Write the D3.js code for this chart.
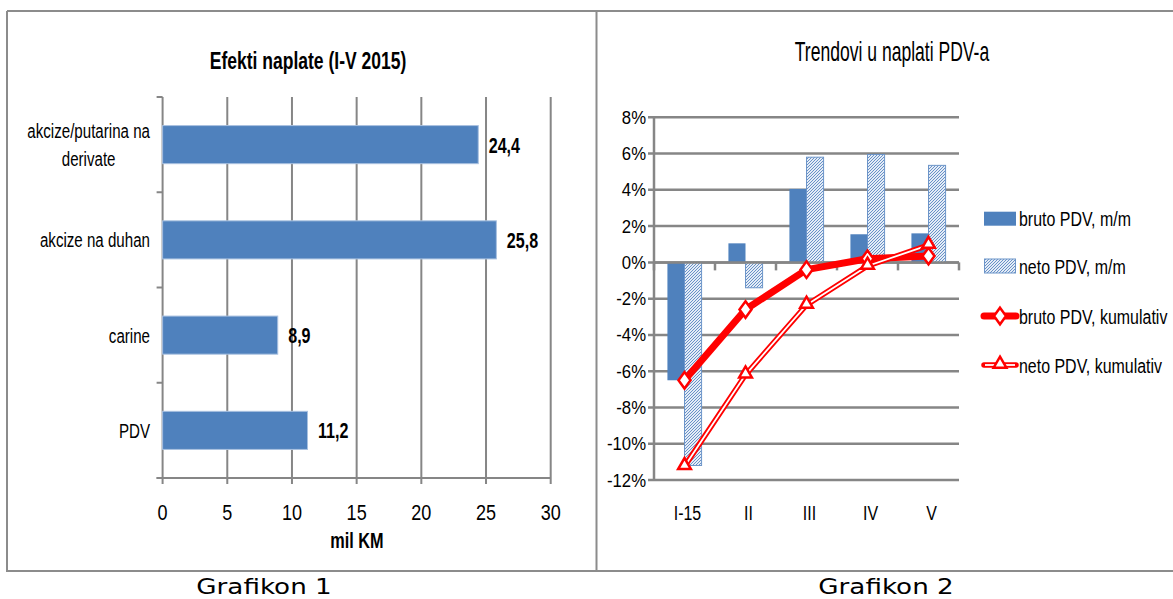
<!DOCTYPE html>
<html>
<head>
<meta charset="utf-8">
<script src="https://cdn.jsdelivr.net/npm/d3@7"></script>
<style>
  body { margin: 0; background: #fff; }
  text { font-family: "Liberation Sans", Arial, sans-serif; fill: #000; }
</style>
</head>
<body>
<svg id="chart"></svg>
<script>
// Grafikon 1 data
const barLabels = [["akcize/putarina na", "derivate"], ["akcize na duhan"], ["carine"], ["PDV"]];
const barValues = [24.4, 25.8, 8.9, 11.2];
const barTicks = [0, 5, 10, 15, 20, 25, 30];

// Grafikon 2 data (percent)
const months = ["I-15", "II", "III", "IV", "V"];
const brutoMM = [-6.5, 1.05, 4.05, 1.55, 1.6];
const netoMM = [-11.2, -1.4, 5.8, 5.95, 5.35];
const brutoKum = [-6.5, -2.6, -0.4, 0.2, 0.35];
const netoKum = [-11.25, -6.2, -2.35, -0.2, 0.95];
const pctTicks = [-12, -10, -8, -6, -4, -2, 0, 2, 4, 6, 8];
const legendNames = ["bruto PDV, m/m", "neto PDV, m/m", "bruto PDV, kumulativ", "neto PDV, kumulativ"];

const W = 1173, H = 599;
const blue = "#4F81BD", grid = "#868686", red = "#FF0000";

const svg = d3.select("#chart").attr("width", W).attr("height", H);

// squeeze text horizontally (Excel text is very narrow / Verdana caption wide)
function squeeze(sel, k) {
  sel.each(function() {
    const t = d3.select(this);
    const x = +t.attr("x"), y = +t.attr("y");
    t.attr("x", 0).attr("y", 0).attr("transform", `translate(${x},${y}) scale(${k},1)`);
  });
  return sel;
}

// hatch pattern for neto bars
const pat = svg.append("defs").append("pattern")
  .attr("id", "hatch").attr("patternUnits", "userSpaceOnUse")
  .attr("width", 3).attr("height", 3);
pat.append("rect").attr("width", 3).attr("height", 3).attr("fill", "#e4ecf6");
pat.append("path").attr("d", "M-1,1 l2,-2 M0,3 l3,-3 M2,4 l2,-2")
  .attr("stroke", "#5b87c2").attr("stroke-width", 0.9);

// frames
svg.append("path")
  .attr("d", "M7,11 H1180 M7,11 V571 H1180 M596.5,11 V571")
  .attr("fill", "none").attr("stroke", "#8c8c8c").attr("stroke-width", 2);

// ---------------- Grafikon 1 ----------------
const p1 = {l: 162.6, r: 550.7, t: 97, b: 478};

const x1 = d3.scaleLinear().domain([0, 30]).range([p1.l, p1.r]);
const y1 = d3.scaleBand().domain(d3.range(barValues.length))
  .range([p1.t, p1.b]).paddingInner(0.6).paddingOuter(0.3);

squeeze(svg.append("text")
  .attr("x", 308).attr("y", 69).attr("text-anchor", "middle")
  .attr("font-size", 24).attr("font-weight", "bold")
  .text("Efekti naplate (I-V 2015)"), 0.73);

// vertical gridlines
svg.append("g").selectAll("line").data(barTicks).join("line")
  .attr("x1", d => x1(d)).attr("x2", d => x1(d))
  .attr("y1", p1.t).attr("y2", p1.b + 6)
  .attr("stroke", grid).attr("stroke-width", 2);

// axis lines and category ticks
svg.append("line").attr("x1", p1.l - 6).attr("x2", p1.r).attr("y1", p1.b).attr("y2", p1.b)
  .attr("stroke", grid).attr("stroke-width", 2);
const step1 = y1.step();
svg.append("g").selectAll("line").data(d3.range(barValues.length + 1)).join("line")
  .attr("x1", p1.l - 6).attr("x2", p1.l)
  .attr("y1", i => p1.t + i * step1).attr("y2", i => p1.t + i * step1)
  .attr("stroke", grid).attr("stroke-width", 2);

// bars
svg.append("g").selectAll("rect").data(barValues).join("rect")
  .attr("x", x1(0)).attr("y", (d, i) => y1(i))
  .attr("width", d => x1(d) - x1(0)).attr("height", y1.bandwidth())
  .attr("fill", blue).attr("stroke", "#a9c1e0").attr("stroke-width", 1);

// value labels
squeeze(svg.append("g").selectAll("text").data(barValues).join("text")
  .attr("x", d => x1(d) + 10.5).attr("y", (d, i) => y1(i) + y1.bandwidth() / 2 + 8)
  .attr("font-size", 22).attr("font-weight", "bold")
  .text(d => d3.format(".1f")(d).replace(".", ",")), 0.73);

// category labels (lines centred, block right-aligned at x=150)
const catK = 0.72;
barLabels.forEach((lines, i) => {
  const cy = y1(i) + y1.bandwidth() / 2;
  const t = svg.append("g").selectAll("text").data(lines).join("text")
    .attr("y", (d, j) => cy + 7.5 + (j - (lines.length - 1) / 2) * 28)
    .attr("font-size", 21).attr("text-anchor", "middle").text(d => d);
  const maxW = d3.max(t.nodes(), n => n.getComputedTextLength()) * catK;
  t.attr("x", 150 - maxW / 2);
  squeeze(t, catK);
});

// x tick labels
squeeze(svg.append("g").selectAll("text").data(barTicks).join("text")
  .attr("x", d => x1(d)).attr("y", 520).attr("text-anchor", "middle")
  .attr("font-size", 22).text(d => d), 0.82);

squeeze(svg.append("text")
  .attr("x", 357).attr("y", 548).attr("text-anchor", "middle")
  .attr("font-size", 22).attr("font-weight", "bold").text("mil KM"), 0.74);

// ---------------- Grafikon 2 ----------------
const p2 = {l: 654, r: 959, t: 117.3, b: 480};

const x2 = d3.scaleBand().domain(months).range([p2.l, p2.r]).paddingInner(0.44).paddingOuter(0.22);
const xs = d3.scaleBand().domain(["bruto", "neto"]).range([0, x2.bandwidth()]);
const y2 = d3.scaleLinear().domain([-12, 8]).range([p2.b, p2.t]);
const cx = m => x2(m) + x2.bandwidth() / 2;

squeeze(svg.append("text")
  .attr("x", 892).attr("y", 61).attr("text-anchor", "middle")
  .attr("font-size", 27).text("Trendovi u naplati PDV-a"), 0.65);

// horizontal gridlines
svg.append("g").selectAll("line").data(pctTicks).join("line")
  .attr("x1", p2.l - 6).attr("x2", p2.r)
  .attr("y1", d => y2(d)).attr("y2", d => y2(d))
  .attr("stroke", grid).attr("stroke-width", 2.5);
svg.append("line").attr("x1", p2.l).attr("x2", p2.l).attr("y1", p2.t).attr("y2", p2.b)
  .attr("stroke", grid).attr("stroke-width", 2.5);

// bars
const barG = svg.append("g");
barG.selectAll("rect.b").data(brutoMM).join("rect").attr("class", "b")
  .attr("x", (d, i) => x2(months[i]) + xs("bruto"))
  .attr("y", d => y2(Math.max(0, d))).attr("width", xs.bandwidth())
  .attr("height", d => Math.abs(y2(d) - y2(0)))
  .attr("fill", blue);
barG.selectAll("rect.n").data(netoMM).join("rect").attr("class", "n")
  .attr("x", (d, i) => x2(months[i]) + xs("neto"))
  .attr("y", d => y2(Math.max(0, d))).attr("width", xs.bandwidth())
  .attr("height", d => Math.abs(y2(d) - y2(0)))
  .attr("fill", "url(#hatch)").attr("stroke", "#6d95c9").attr("stroke-width", 1);

// category axis at 0 with ticks down
svg.append("line").attr("x1", p2.l).attr("x2", p2.r).attr("y1", y2(0)).attr("y2", y2(0))
  .attr("stroke", grid).attr("stroke-width", 2.5);
svg.append("g").selectAll("line").data(d3.range(months.length + 1)).join("line")
  .attr("x1", i => p2.l + i * x2.step()).attr("x2", i => p2.l + i * x2.step())
  .attr("y1", y2(0)).attr("y2", y2(0) + 8)
  .attr("stroke", grid).attr("stroke-width", 2.5);

// y tick labels
squeeze(svg.append("g").selectAll("text").data(pctTicks).join("text")
  .attr("x", 646).attr("y", d => y2(d) + 6.5).attr("text-anchor", "end")
  .attr("font-size", 19).text(d => d + "%"), 0.88);

// x labels
squeeze(svg.append("g").selectAll("text").data(months).join("text")
  .attr("x", d => cx(d) + 3).attr("y", 520).attr("text-anchor", "middle")
  .attr("font-size", 21).text(d => d), 0.76);

// markers
const diamond = {
  draw(ctx, size) {
    const s = Math.sqrt(size), w = s * 0.4, h = s * 0.55;
    ctx.moveTo(0, -h); ctx.lineTo(w, 0); ctx.lineTo(0, h); ctx.lineTo(-w, 0); ctx.closePath();
  }
};
const diamondPath = d3.symbol().type(diamond).size(225)();
const trianglePath = d3.symbol().type(d3.symbolTriangle).size(70)();

const line2 = d3.line().x((d, i) => cx(months[i])).y(d => y2(d));

// bruto kumulativ
svg.append("path").attr("d", line2(brutoKum))
  .attr("fill", "none").attr("stroke", red).attr("stroke-width", 7).attr("stroke-linejoin", "round");
svg.append("g").selectAll("path").data(brutoKum).join("path")
  .attr("d", diamondPath)
  .attr("transform", (d, i) => `translate(${cx(months[i])},${y2(d)})`)
  .attr("fill", "#fff").attr("stroke", red).attr("stroke-width", 2.5);

// neto kumulativ (double line)
svg.append("path").attr("d", line2(netoKum))
  .attr("fill", "none").attr("stroke", red).attr("stroke-width", 5.5);
svg.append("path").attr("d", line2(netoKum))
  .attr("fill", "none").attr("stroke", "#fff").attr("stroke-width", 1.8);
svg.append("g").selectAll("path").data(netoKum).join("path")
  .attr("d", trianglePath)
  .attr("transform", (d, i) => `translate(${cx(months[i])},${y2(d) - 1})`)
  .attr("fill", "#fff").attr("stroke", red).attr("stroke-width", 2.5);

// legend
const lg = svg.append("g");
const lgY = [218.7, 266, 316, 365];
lg.append("rect").attr("x", 984).attr("y", lgY[0] - 7).attr("width", 32).attr("height", 14)
  .attr("fill", blue);
lg.append("rect").attr("x", 984.5).attr("y", lgY[1] - 7).attr("width", 31).attr("height", 14)
  .attr("fill", "url(#hatch)").attr("stroke", "#6d95c9").attr("stroke-width", 1);
lg.append("line").attr("x1", 984).attr("x2", 1016).attr("y1", lgY[2]).attr("y2", lgY[2])
  .attr("stroke", red).attr("stroke-width", 7).attr("stroke-linecap", "round");
lg.append("path").attr("d", diamondPath).attr("transform", `translate(1000,${lgY[2]})`)
  .attr("fill", "#fff").attr("stroke", red).attr("stroke-width", 2.5);
lg.append("line").attr("x1", 984).attr("x2", 1016).attr("y1", lgY[3]).attr("y2", lgY[3])
  .attr("stroke", red).attr("stroke-width", 5.5).attr("stroke-linecap", "round");
lg.append("line").attr("x1", 985).attr("x2", 1015).attr("y1", lgY[3]).attr("y2", lgY[3])
  .attr("stroke", "#fff").attr("stroke-width", 1.8);
lg.append("path").attr("d", trianglePath).attr("transform", `translate(1000,${lgY[3] - 1})`)
  .attr("fill", "#fff").attr("stroke", red).attr("stroke-width", 2.5);
squeeze(lg.selectAll("text").data(legendNames).join("text")
  .attr("x", 1019).attr("y", (d, i) => lgY[i] + 7.5)
  .attr("font-size", 21).text(d => d), 0.76);

// captions under the frames
squeeze(svg.append("g").selectAll("text").data(["Grafikon 1", "Grafikon 2"]).join("text")
  .attr("x", (d, i) => [264, 886][i]).attr("y", 593.5).attr("text-anchor", "middle")
  .style("font-family", "'DejaVu Sans', Verdana, sans-serif")
  .attr("font-size", 22).text(d => d), 1.19);
</script>
</body>
</html>
